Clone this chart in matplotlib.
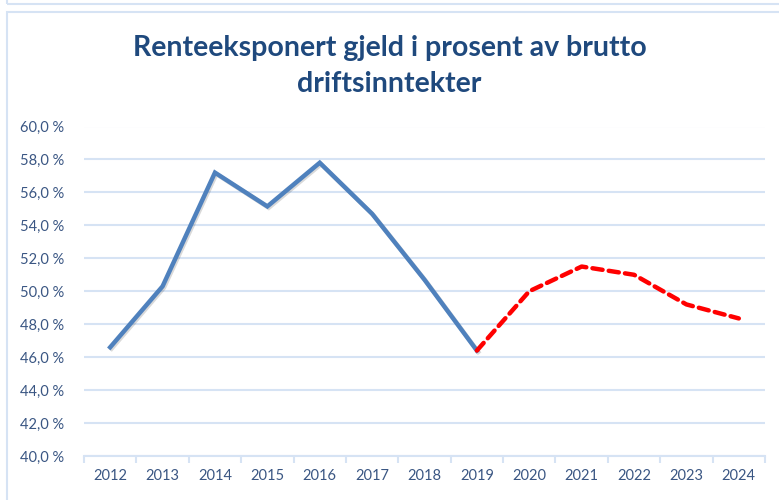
import matplotlib.pyplot as plt
import matplotlib.patheffects as pe
from matplotlib.patches import Rectangle
from matplotlib.ticker import FuncFormatter

# data
years = ['2012', '2013', '2014', '2015', '2016', '2017', '2018',
         '2019', '2020', '2021', '2022', '2023', '2024']
actual = [46.6, 50.3, 57.2, 55.15, 57.8, 54.7, 50.7, 46.4]
forecast = [46.4, 50.0, 51.5, 51.0, 49.2, 48.35]

blue = '#4F81BD'
grid_col = '#D6E3F4'
text_col = '#3A5683'
title_col = '#1F497D'

plt.rcParams['font.family'] = ['Lato', 'DejaVu Sans']

fig = plt.figure(figsize=(7.79, 5.0), dpi=100)

# chart frame
fig.patches.append(Rectangle((7/779, -0.01), 1.0, 1 - 12/500 + 0.01, transform=fig.transFigure,
                             fill=False, edgecolor=grid_col, linewidth=1.5))
fig.patches.append(Rectangle((7/779, 1 - 4/500), 1.0, 0.1, transform=fig.transFigure,
                             fill=False, edgecolor=grid_col, linewidth=1.5))

ax = fig.add_axes([84/779, 1 - 456/500, (765 - 84)/779, (456 - 126.5)/500])

x_act = list(range(len(actual)))
x_fc = list(range(len(actual) - 1, len(actual) - 1 + len(forecast)))

ax.plot(x_act, actual, color=blue, linewidth=3.2, solid_joinstyle='miter',
        path_effects=[pe.SimpleLineShadow(offset=(1, -1), alpha=0.15), pe.Normal()])
ax.plot(x_fc, forecast, color='#FF0000', linewidth=3.2, linestyle=(0, (2.3, 1.4)),
        dash_capstyle='round')

ax.set_xlim(-0.5, len(years) - 0.5)
ax.set_ylim(40, 60)
ax.set_yticks(range(40, 61, 2))
ax.yaxis.set_major_formatter(FuncFormatter(lambda v, p: f'{v:.1f} %'.replace('.', ',')))
ax.grid(axis='y', color=grid_col, linewidth=1.5)
ax.set_axisbelow(True)

ax.set_xticks(range(len(years)))
ax.set_xticklabels(years)
ax.set_xticks([i - 0.5 for i in range(len(years) + 1)], minor=True)
ax.tick_params(axis='x', which='major', length=0, pad=9, labelsize=10.5, labelcolor=text_col)
ax.tick_params(axis='x', which='minor', length=5, width=1.5, color=grid_col)
ax.tick_params(axis='y', length=0, pad=14, labelsize=10.5, labelcolor=text_col)

for s in ['top', 'right', 'left']:
    ax.spines[s].set_visible(False)
ax.spines['bottom'].set_color(grid_col)
ax.spines['bottom'].set_linewidth(1.5)

fig.text(0.5, 1 - 66/500, 'Renteeksponert gjeld i prosent av brutto\ndriftsinntekter',
         ha='center', va='center', fontsize=20.5, fontweight='bold', color=title_col,
         linespacing=1.52)

fig.savefig('out.png', dpi=100)
